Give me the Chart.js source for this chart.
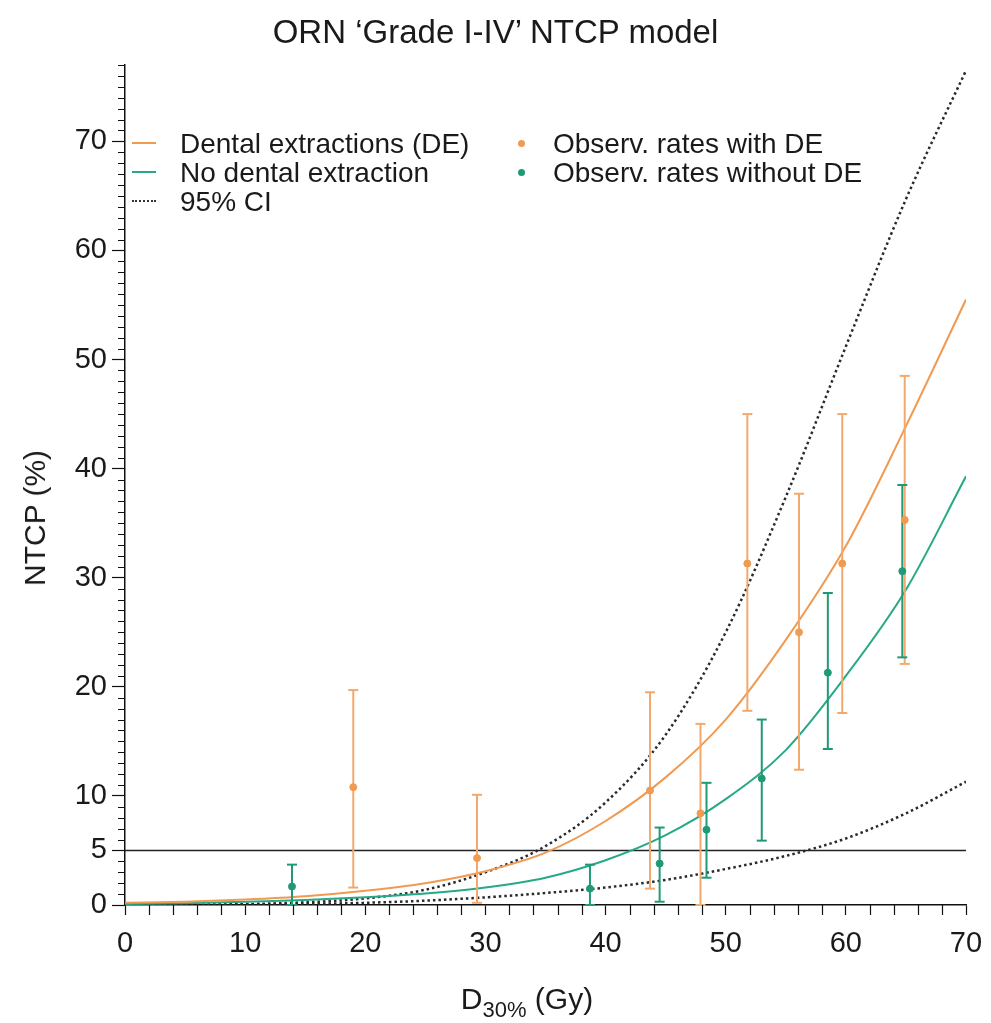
<!DOCTYPE html>
<html>
<head>
<meta charset="utf-8">
<script src="https://cdn.jsdelivr.net/npm/chart.js@4.4.1/dist/chart.umd.min.js"></script>
<style>
  body { margin: 0; background: #fff; }
  #wrap { position: relative; width: 991px; height: 1023px; font-family: 'Liberation Sans', Arial, sans-serif; color: #1a1a1a; }
  #chart { position: absolute; left: 0; top: 0; }
  .txt { position: absolute; white-space: nowrap; line-height: 1; }
  #title { left: 0; width: 991px; top: 15px; text-align: center; font-size: 33px; }
  #xTitle { left: 527px; top: 984px; transform: translateX(-50%); font-size: 30px; }
  #xTitle sub { font-size: 22px; vertical-align: -8px; }
  #yTitle { left: 35px; top: 518px; transform: translate(-50%, -50%) rotate(-90deg); font-size: 30px; }
  .leg { position: absolute; font-size: 28px; line-height: 29px; white-space: nowrap; }
  .sample { position: absolute; width: 24px; height: 0; }
  .dot { position: absolute; width: 7px; height: 7px; border-radius: 50%; }
</style>
</head>
<body>
<div id="wrap">
  <canvas id="chart" width="991" height="1023"></canvas>
  <div id="title" class="txt">ORN ‘Grade I-IV’ NTCP model</div>
  <div id="xTitle" class="txt">D<sub>30%</sub> (Gy)</div>
  <div id="yTitle" class="txt">NTCP (%)</div>
  <div id="legend"></div>
</div>
<script>
// model curves at these doses
const curveDose = [0, 5, 10, 15, 20, 25, 30, 35, 40, 45, 50, 55, 60, 65, 70];
const ntcpWithDE = [0.2, 0.3, 0.5, 0.8, 1.3, 2.0, 3.1, 4.8, 7.7, 11.7, 17.0, 24.3, 32.9, 43.9, 55.5];
const ntcpNoDE = [0.1, 0.15, 0.3, 0.45, 0.7, 1.05, 1.6, 2.5, 4.1, 6.4, 9.7, 14.2, 21.0, 28.9, 39.3];
const ciUpper = [0, 0.02, 0.08, 0.25, 0.6, 1.4, 3.0, 5.4, 9.4, 15.6, 25.0, 37.4, 51.2, 64.7, 76.5];
const ciLower = [0, 0, 0.05, 0.1, 0.2, 0.4, 0.7, 1.1, 1.6, 2.3, 3.3, 4.5, 6.1, 8.4, 11.3];

// observed rates with dental extractions
const obsDeDose = [19.0, 29.3, 43.7, 47.9, 51.8, 56.1, 59.7, 64.9];
const obsDeRate = [10.8, 4.3, 10.5, 8.4, 31.3, 25.0, 31.3, 35.3];
const obsDeLow = [1.6, 0.2, 1.5, 0, 17.8, 12.4, 17.6, 22.1];
const obsDeHigh = [19.7, 10.1, 19.5, 16.6, 45.0, 37.7, 45.0, 48.5];

// observed rates without dental extractions
const obsNoDeDose = [13.9, 38.7, 44.5, 48.4, 53.0, 58.5, 64.7];
const obsNoDeRate = [1.7, 1.5, 3.8, 6.9, 11.6, 21.3, 30.6];
const obsNoDeLow = [0, 0, 0.3, 2.5, 5.9, 14.3, 22.7];
const obsNoDeHigh = [3.7, 3.7, 7.1, 11.2, 17.0, 28.6, 38.5];

const thresholdLevel = 5;
const xTickLabels = [0, 10, 20, 30, 40, 50, 60, 70];
const yTickLabels = [0, 5, 10, 20, 30, 40, 50, 60, 70];

const legendItems = [
    { text: 'Dental extractions (DE)', kind: 'line', color: '#f09a52' },
    { text: 'No dental extraction', kind: 'line', color: '#27a987' },
    { text: '95% CI', kind: 'dash', color: '#333' },
    { text: 'Observ. rates with DE', kind: 'dot', color: '#f09a52' },
    { text: 'Observ. rates without DE', kind: 'dot', color: '#1f9a77' }
];

const ORANGE = '#f09a52';
const ORANGE_BAR = '#f3a96c';
const GREEN = '#27a987';
const GREEN_BAR = '#1f9a77';
const FONT = "'Liberation Sans', Arial, sans-serif";

const toPoints = (xs, ys) => xs.map((x, i) => ({ x: x, y: ys[i] }));

function errorBars(xs, lows, highs, color) {
    return xs.map((x, i) => ({
        data: [{ x: x, y: lows[i] }, { x: x, y: highs[i] }],
        showLine: true,
        borderColor: color,
        borderWidth: 2,
        pointStyle: 'line',
        pointRadius: 5,
        pointBorderWidth: 2,
        pointBorderColor: color,
        clip: false
    }));
}

function curve(ys, color, dashed) {
    return {
        data: toPoints(curveDose, ys),
        showLine: true,
        borderColor: color,
        borderWidth: dashed ? 2.5 : 2,
        borderDash: dashed ? [2.5, 3] : [],
        cubicInterpolationMode: 'monotone',
        pointRadius: 0
    };
}

const datasets = [];
// dots on top
datasets.push({ data: toPoints(obsDeDose, obsDeRate), backgroundColor: ORANGE, borderColor: ORANGE, pointRadius: 3.5 });
datasets.push({ data: toPoints(obsNoDeDose, obsNoDeRate), backgroundColor: GREEN_BAR, borderColor: GREEN_BAR, pointRadius: 3.5 });
datasets.push(...errorBars(obsNoDeDose, obsNoDeLow, obsNoDeHigh, GREEN_BAR));
datasets.push(...errorBars(obsDeDose, obsDeLow, obsDeHigh, ORANGE_BAR));
datasets.push(curve(ntcpWithDE, ORANGE, false));
datasets.push(curve(ntcpNoDE, GREEN, false));
datasets.push(curve(ciUpper, '#2a2a2a', true));
datasets.push(curve(ciLower, '#2a2a2a', true));
// 5% reference line
datasets.push({
    data: [{ x: 0, y: thresholdLevel }, { x: 70, y: thresholdLevel }],
    showLine: true, borderColor: '#222', borderWidth: 1.5, pointRadius: 0
});

// short ticks between the labelled ones
const minorTicks = {
    id: 'minorTicks',
    afterDraw(chart) {
        const { ctx, scales: { x, y } } = chart;
        ctx.save();
        ctx.strokeStyle = '#111';
        ctx.lineWidth = 1.2;
        ctx.beginPath();
        for (let v = 1; v <= 77; v++) {
            if (yTickLabels.includes(v)) continue;
            const py = Math.round(y.getPixelForValue(v)) + 0.5;
            ctx.moveTo(x.left - 7, py);
            ctx.lineTo(x.left, py);
        }
        for (let v = 2; v < 70; v += 2) {
            if (xTickLabels.includes(v)) continue;
            const px = Math.round(x.getPixelForValue(v)) + 0.5;
            ctx.moveTo(px, y.bottom);
            ctx.lineTo(px, y.bottom + 10);
        }
        ctx.stroke();
        ctx.restore();
    }
};

new Chart(document.getElementById('chart'), {
    type: 'scatter',
    data: { datasets: datasets },
    plugins: [minorTicks],
    options: {
        responsive: false,
        animation: false,
        layout: { padding: { left: 0, right: 25, top: 65, bottom: 0 } },
        plugins: { legend: { display: false }, tooltip: { enabled: false } },
        scales: {
            x: {
                type: 'linear',
                min: 0,
                max: 70,
                afterBuildTicks: scale => { scale.ticks = xTickLabels.map(v => ({ value: v })); },
                afterFit: scale => { scale.height = 118; scale.paddingLeft = 0; scale.paddingRight = 0; },
                border: { color: '#111', width: 1.5 },
                grid: { drawOnChartArea: false, tickLength: 10, tickColor: '#111', tickWidth: 1.2 },
                ticks: { color: '#1a1a1a', font: { family: FONT, size: 29 }, padding: 12, maxRotation: 0 }
            },
            y: {
                type: 'linear',
                min: 0,
                max: 77,
                afterBuildTicks: scale => { scale.ticks = yTickLabels.map(v => ({ value: v })); },
                afterFit: scale => { scale.width = 125; scale.paddingTop = 0; scale.paddingBottom = 0; },
                border: { color: '#111', width: 1.5 },
                grid: { drawOnChartArea: false, tickLength: 13, tickColor: '#111', tickWidth: 1.2 },
                ticks: { color: '#1a1a1a', font: { family: FONT, size: 29 }, padding: 5 }
            }
        }
    }
});

// legend, two columns in the upper left of the plot
const legendBox = document.getElementById('legend');
const colX = [132, 516];
const textX = [180, 553];
legendItems.forEach((item, i) => {
    const col = i < 3 ? 0 : 1;
    const row = i < 3 ? i : i - 3;
    const cy = 143 + row * 29;
    const label = document.createElement('div');
    label.className = 'leg';
    label.style.left = textX[col] + 'px';
    label.style.top = (cy - 14.5) + 'px';
    label.textContent = item.text;
    legendBox.appendChild(label);
    const mark = document.createElement('div');
    if (item.kind === 'dot') {
        mark.className = 'dot';
        mark.style.left = (colX[col] + 2) + 'px';
        mark.style.top = (cy - 3.5) + 'px';
        mark.style.background = item.color;
    } else {
        mark.className = 'sample';
        mark.style.left = colX[col] + 'px';
        mark.style.top = (cy - 1) + 'px';
        mark.style.borderTop = '2px ' + (item.kind === 'dash' ? 'dotted' : 'solid') + ' ' + item.color;
    }
    legendBox.appendChild(mark);
});
</script>
</body>
</html>
